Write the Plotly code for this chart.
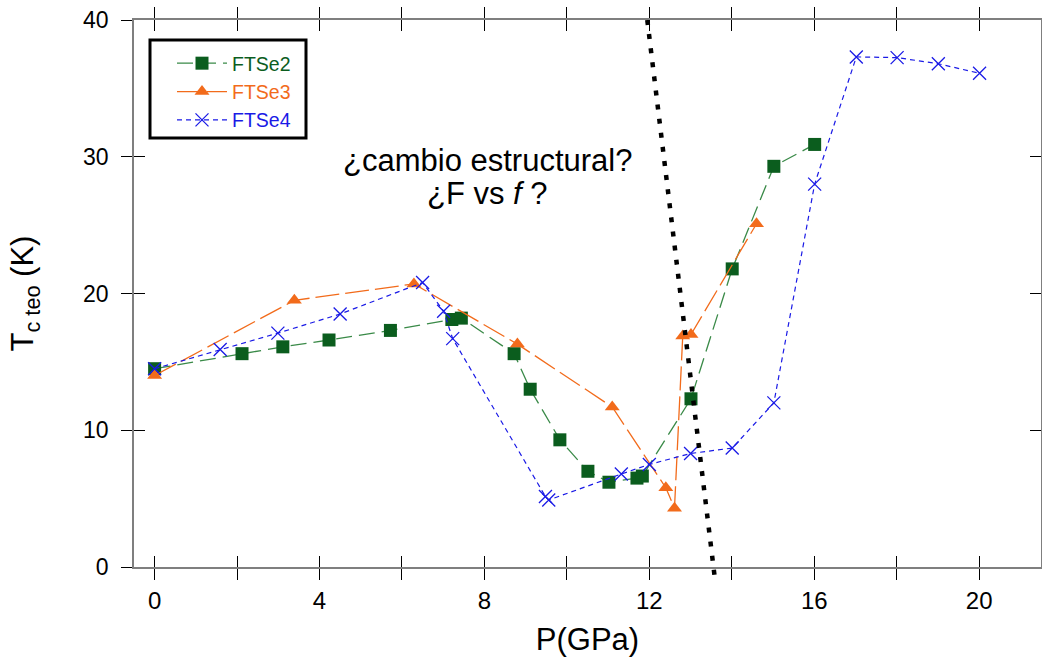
import plotly.graph_objects as go

# ---- data ----
p_ftse2 = [0, 2.12, 3.11, 4.23, 5.72, 7.21, 7.44, 8.72, 9.11, 9.83, 10.51, 11.02, 11.70, 11.83, 13.01, 14.01, 15.02, 16.01]
tc_ftse2 = [14.5, 15.6, 16.1, 16.6, 17.3, 18.1, 18.2, 15.6, 13.0, 9.3, 7.0, 6.2, 6.5, 6.65, 12.3, 21.8, 29.3, 30.9]

p_ftse3 = [0, 3.39, 6.29, 8.80, 11.10, 12.40, 12.61, 12.81, 13.01, 14.60]
tc_ftse3 = [14.0, 19.5, 20.7, 16.3, 11.7, 5.8, 4.3, 16.9, 17.0, 25.1]

p_ftse4 = [0, 1.59, 2.99, 4.50, 6.50, 7.01, 7.23, 9.48, 9.56, 11.32, 12.00, 13.00, 14.01, 15.02, 16.01, 17.02, 18.01, 19.01, 20.01]
tc_ftse4 = [14.5, 15.9, 17.1, 18.5, 20.8, 18.7, 16.7, 5.15, 4.9, 6.8, 7.5, 8.3, 8.7, 12.0, 28.0, 37.3, 37.25, 36.8, 36.1]

p_guide = [11.95, 13.58]
tc_guide = [40, -0.6]

y_tickvals = [0, 10, 20, 30, 40]

GREEN_M = "#0b5d1e"
GREEN_L = "#3a8a48"
ORANGE = "#f26b1b"
BLUE = "#1a1ae6"

FONT = "Liberation Sans, Arial, Helvetica, sans-serif"

# layout geometry (pixels)
W, H = 1042, 664
ML, MR, MT, MB = 134, 1, 20, 87     # bottom margin leaves room for the guide line overshoot
EXTRA = 10                           # px below the x axis where the guide line may continue
plot_h = H - MT - MB
plot_w = W - ML - MR
y_dom0 = EXTRA / plot_h
y_main_range = [0, 40]
y_guide_range = [-40 * EXTRA / (plot_h - EXTRA), 40]
x_range = [-0.5, 21.5]

fig = go.Figure()

fig.add_trace(go.Scatter(
    x=p_ftse2, y=tc_ftse2, mode="lines+markers",
    name=f'<span style="color:{GREEN_M}">FTSe2</span>',
    line=dict(color=GREEN_L, width=1.3, dash="16px,7px"),
    marker=dict(symbol="square", size=13, color=GREEN_M),
))
fig.add_trace(go.Scatter(
    x=p_ftse3, y=tc_ftse3, mode="lines+markers",
    name=f'<span style="color:{ORANGE}">FTSe3</span>',
    line=dict(color=ORANGE, width=1.3, dash="24px,6px"),
    marker=dict(symbol="triangle-up", size=13, color=ORANGE),
))
fig.add_trace(go.Scatter(
    x=p_ftse4, y=tc_ftse4, mode="lines+markers",
    name=f'<span style="color:{BLUE}">FTSe4</span>',
    line=dict(color=BLUE, width=1.2, dash="5px,4px"),
    marker=dict(symbol="x-thin-open", size=13, color=BLUE, line=dict(color=BLUE, width=1.3)),
))
fig.add_trace(go.Scatter(
    x=p_guide, y=tc_guide, mode="lines", showlegend=False, yaxis="y3",
    line=dict(color="black", width=4.5, dash="5px,9.2px"),
    hoverinfo="skip", cliponaxis=False,
))
# empty traces so that the tick-only overlay axes are always rendered
fig.add_trace(go.Scatter(x=[], y=[], xaxis="x2", yaxis="y", showlegend=False, hoverinfo="skip"))
fig.add_trace(go.Scatter(x=[], y=[], xaxis="x", yaxis="y2", showlegend=False, hoverinfo="skip"))

fig.add_annotation(x=8.07, y=29.7, xref="x", yref="y", text="¿cambio estructural?",
                   showarrow=False, font=dict(family=FONT, size=31, color="black"),
                   xanchor="center", yanchor="middle")
fig.add_annotation(x=8.07, y=27.3, xref="x", yref="y", text="¿F vs <i>f</i> ?",
                   showarrow=False, font=dict(family=FONT, size=31, color="black"),
                   xanchor="center", yanchor="middle")

# legend frame (decoration), legend itself is borderless inside it
fig.add_shape(type="rect", xref="paper", yref="paper",
              x0=(150 - ML) / plot_w, x1=(306 - ML) / plot_w,
              y0=(H - MB - 138) / plot_h, y1=(H - MB - 40) / plot_h,
              line=dict(color="black", width=3), fillcolor="rgba(0,0,0,0)", layer="above")

AX_LINE = "#7f7f7f"
fig.update_layout(
    width=W, height=H,
    margin=dict(l=ML, r=MR, t=MT, b=MB, pad=0, autoexpand=False),
    paper_bgcolor="white", plot_bgcolor="rgba(0,0,0,0)",
    font=dict(family=FONT, color="black"),
    showlegend=True,
    legend=dict(
        x=(172 - ML) / plot_w, y=(H - MB - 44) / plot_h, xanchor="left", yanchor="top",
        borderwidth=0, bgcolor="rgba(0,0,0,0)",
        font=dict(family=FONT, size=19.5),
        itemwidth=50, tracegroupgap=0,
    ),
    xaxis=dict(
        range=x_range, showgrid=False, zeroline=False, automargin=False,
        showline=True, linecolor=AX_LINE, linewidth=1.5, mirror="ticks",
        ticks="outside", ticklen=11, tickwidth=1, tickcolor="black",
        tick0=0, dtick=4,
        minor=dict(tick0=0, dtick=2, ticks="outside", ticklen=11, tickwidth=1, tickcolor="black", showgrid=False),
        tickfont=dict(family=FONT, size=24),
        title=dict(text="P(GPa)", font=dict(family=FONT, size=31), standoff=16),
    ),
    xaxis2=dict(
        overlaying="x", anchor="y", side="bottom", range=x_range, automargin=False,
        showgrid=False, zeroline=False, showline=False, mirror="ticks",
        ticks="inside", ticklen=11, tickwidth=1, tickcolor="black",
        tick0=0, dtick=2, showticklabels=False,
    ),
    yaxis=dict(
        domain=[y_dom0, 1],
        range=y_main_range, showgrid=False, zeroline=False, automargin=False,
        showline=True, linecolor=AX_LINE, linewidth=1.5, mirror=True,
        ticks="outside", ticklen=11, tickwidth=1, tickcolor="black",
        tickvals=y_tickvals, ticklabelstandoff=8,
        tickfont=dict(family=FONT, size=23),
        title=dict(text="T<sub>c teo</sub> (K)", font=dict(family=FONT, size=31), standoff=40),
    ),
    yaxis2=dict(
        overlaying="y", anchor="x", side="left", range=y_main_range, automargin=False,
        showgrid=False, zeroline=False, showline=False, mirror="ticks",
        ticks="inside", ticklen=11, tickwidth=1, tickcolor="black",
        tickvals=y_tickvals, showticklabels=False,
    ),
    yaxis3=dict(
        domain=[0, 1], anchor="x", range=y_guide_range, visible=False,
        showgrid=False, zeroline=False,
    ),
)

fig.write_html("out.html", config={"displayModeBar": False},
               post_script="document.body.style.margin='0';document.body.style.overflow='hidden';")
